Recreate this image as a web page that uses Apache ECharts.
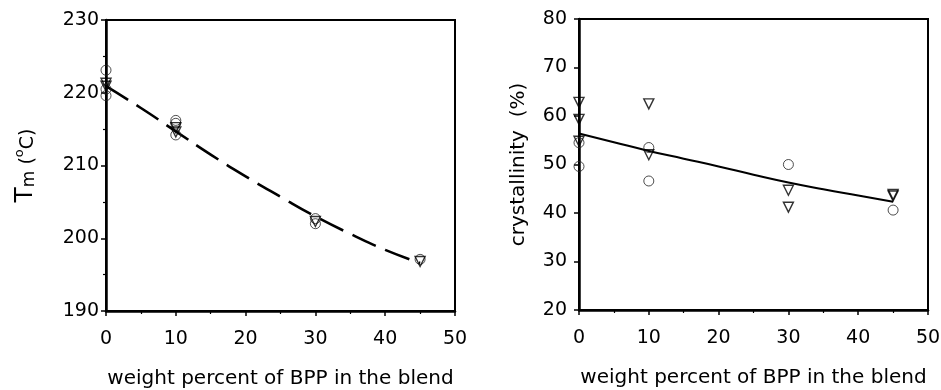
<!DOCTYPE html>
<html>
<head>
<meta charset="utf-8">
<script src="https://cdn.jsdelivr.net/npm/echarts@6/dist/echarts.min.js"></script>
<style>
html,body{margin:0;padding:0;background:#fff;}
#c{width:941px;height:390px;}
</style>
</head>
<body>
<div id="c"></div>
<script>
// ---- data ----
const tmCircleX = [0, 0, 0, 10, 10, 10, 30, 30, 45];
const tmCircleY = [223.1, 220.5, 219.6, 216.2, 215.8, 214.2, 202.7, 202.0, 197.1];
const tmTriX = [0, 0, 10, 10, 30, 45];
const tmTriY = [221.3, 220.9, 215.2, 214.6, 202.3, 196.8];

const crCircleX = [0, 0, 10, 10, 30, 45];
const crCircleY = [54.5, 49.6, 53.5, 46.6, 50.0, 40.6];
const crTriX = [0, 0, 0, 10, 10, 30, 30, 45, 45];
const crTriY = [62.8, 59.3, 54.8, 62.5, 52.0, 44.7, 41.2, 43.5, 43.8];

const fitX = [0, 5, 10, 15, 20, 25, 30, 35, 40, 45];
const tmFit = [220.9, 217.9, 214.7, 211.5, 208.5, 205.7, 203.0, 200.6, 198.4, 196.6];
const crFit = [56.4, 54.6, 52.8, 51.2, 49.6, 47.9, 46.3, 44.9, 43.6, 42.3];

const xName = 'weight percent of BPP in the blend';
const xTickMin = 0, xTickMax = 50, xTickStep = 10;
const tmMin = 190, tmMax = 230, tmStep = 10;
const crMin = 20, crMax = 80, crStep = 10;

const FONT = 'DejaVu Sans';
const zip = (a, b) => a.map((v, i) => [v, b[i]]);

const chart = echarts.init(document.getElementById('c'), null, {renderer: 'canvas'});

function xAxis(gi) {
  return {
    type: 'value', gridIndex: gi, min: xTickMin, max: xTickMax, interval: xTickStep,
    name: xName, nameLocation: 'middle', nameGap: 58,
    nameTextStyle: {fontFamily: FONT, fontSize: 20, color: '#000'},
    axisLine: {show: true, onZero: false, lineStyle: {color: '#000', width: 2.5}},
    axisTick: {show: true, inside: false, length: 5, lineStyle: {color: '#000', width: 1.5}},
    minorTick: {show: true, splitNumber: 2, length: 3, lineStyle: {color: '#000', width: 1.2}},
    axisLabel: {fontFamily: FONT, fontSize: 19, color: '#000', margin: 19},
    splitLine: {show: false}, minorSplitLine: {show: false}
  };
}

const option = {
  backgroundColor: '#fff',
  animation: false,
  grid: [
    {left: 106, top: 20, width: 349, height: 291, outerBoundsMode: 'none', containLabel: false,
     show: true, borderColor: '#000', borderWidth: 2, backgroundColor: 'transparent'},
    {left: 579, top: 19, width: 349, height: 291, outerBoundsMode: 'none', containLabel: false,
     show: true, borderColor: '#000', borderWidth: 2, backgroundColor: 'transparent'}
  ],
  xAxis: [xAxis(0), xAxis(1)],
  yAxis: [
    {
      type: 'value', gridIndex: 0, min: tmMin, max: tmMax, interval: tmStep,
      name: '{t|T}{m|m}{p| (}{o|o}{c|C)}', nameLocation: 'middle', nameGap: 68,
      nameTextStyle: {
        fontFamily: FONT, color: '#000',
        rich: {
          t: {fontFamily: FONT, fontSize: 25, color: '#000', verticalAlign: 'bottom'},
          m: {fontFamily: FONT, fontSize: 17, color: '#000', verticalAlign: 'bottom'},
          p: {fontFamily: FONT, fontSize: 19, color: '#000', verticalAlign: 'bottom'},
          o: {fontFamily: FONT, fontSize: 13, color: '#000', verticalAlign: 'top'},
          c: {fontFamily: FONT, fontSize: 19, color: '#000', verticalAlign: 'bottom'}
        }
      },
      axisLine: {show: true, onZero: false, lineStyle: {color: '#000', width: 2.5}},
      axisTick: {show: true, inside: false, length: 5, lineStyle: {color: '#000', width: 1.5}},
      minorTick: {show: true, splitNumber: 2, length: 3, lineStyle: {color: '#000', width: 1.2}},
      axisLabel: {fontFamily: FONT, fontSize: 19, color: '#000', margin: 7},
      splitLine: {show: false}, minorSplitLine: {show: false}
    },
    {
      type: 'value', gridIndex: 1, min: crMin, max: crMax, interval: crStep,
      name: 'crystallinity  (%)', nameLocation: 'middle', nameGap: 50,
      nameTextStyle: {fontFamily: FONT, fontSize: 20, color: '#000'},
      axisLine: {show: true, onZero: false, lineStyle: {color: '#000', width: 2.5}},
      axisTick: {show: true, inside: false, length: 5, lineStyle: {color: '#000', width: 1.5}},
      minorTick: {show: false},
      axisLabel: {fontFamily: FONT, fontSize: 19, color: '#000', margin: 12},
      splitLine: {show: false}, minorSplitLine: {show: false}
    }
  ],
  series: [
    {
      type: 'line', xAxisIndex: 0, yAxisIndex: 0, data: zip(fitX, tmFit),
      smooth: true, showSymbol: false, symbol: 'none', z: 3,
      lineStyle: {color: '#000', width: 2.6, type: [26, 10]}
    },
    {
      type: 'scatter', xAxisIndex: 0, yAxisIndex: 0, data: zip(tmCircleX, tmCircleY),
      symbol: 'circle', symbolSize: 10, z: 4,
      itemStyle: {color: 'rgba(0,0,0,0)', borderColor: '#222', borderWidth: 1}
    },
    {
      type: 'scatter', xAxisIndex: 0, yAxisIndex: 0, data: zip(tmTriX, tmTriY),
      symbol: 'triangle', symbolRotate: 180, symbolSize: 10, z: 4,
      itemStyle: {color: 'rgba(0,0,0,0)', borderColor: '#000', borderWidth: 1.4}
    },
    {
      type: 'line', xAxisIndex: 1, yAxisIndex: 1, data: zip(fitX, crFit),
      smooth: true, showSymbol: false, symbol: 'none', z: 3,
      lineStyle: {color: '#000', width: 2}
    },
    {
      type: 'scatter', xAxisIndex: 1, yAxisIndex: 1, data: zip(crCircleX, crCircleY),
      symbol: 'circle', symbolSize: 10, z: 4,
      itemStyle: {color: 'rgba(0,0,0,0)', borderColor: '#222', borderWidth: 1}
    },
    {
      type: 'scatter', xAxisIndex: 1, yAxisIndex: 1, data: zip(crTriX, crTriY),
      symbol: 'triangle', symbolRotate: 180, symbolSize: 10, z: 4,
      itemStyle: {color: 'rgba(0,0,0,0)', borderColor: '#000', borderWidth: 1.4}
    }
  ]
};
chart.setOption(option);
</script>
</body>
</html>
